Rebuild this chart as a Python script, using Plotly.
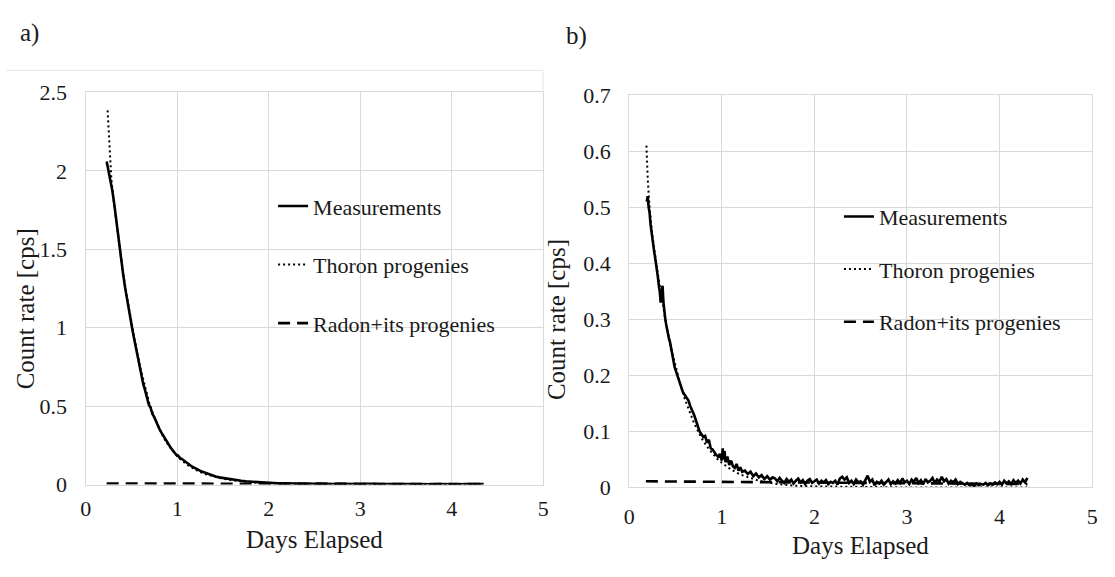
import numpy as np
import plotly.graph_objects as go

W, H = 1115, 577

# ---------------- Panel a) data ----------------
a_meas_x = [0.23, 0.25, 0.27, 0.29, 0.31, 0.33, 0.35, 0.37, 0.39, 0.41, 0.43, 0.45, 0.47, 0.49,
            0.51, 0.53, 0.55, 0.57, 0.59, 0.61, 0.63, 0.65, 0.67, 0.69, 0.71, 0.73, 0.75, 0.77,
            0.79, 0.81, 0.83, 0.85, 0.87, 0.89, 0.91, 0.93, 0.95, 0.97, 0.99, 1.01, 1.03, 1.06,
            1.09, 1.12, 1.15, 1.18, 1.21, 1.24, 1.27, 1.30, 1.34, 1.38, 1.42, 1.46, 1.50, 1.55,
            1.60, 1.65, 1.70, 1.75, 1.80, 1.85, 1.90, 1.95, 2.00]
a_meas_y = [2.06, 2.00, 1.95, 1.88, 1.80, 1.70, 1.60, 1.51, 1.42, 1.34, 1.26, 1.19, 1.11, 1.05,
            0.99, 0.93, 0.87, 0.81, 0.75, 0.69, 0.64, 0.60, 0.55, 0.51, 0.49, 0.45, 0.43, 0.40,
            0.38, 0.35, 0.33, 0.31, 0.29, 0.27, 0.25, 0.235, 0.22, 0.205, 0.19, 0.185, 0.17, 0.16,
            0.145, 0.135, 0.12, 0.11, 0.10, 0.092, 0.083, 0.077, 0.068, 0.060, 0.052, 0.046, 0.042, 0.036,
            0.031, 0.028, 0.024, 0.021, 0.019, 0.016, 0.014, 0.013, 0.011]
a_tail_y = [0.010, 0.008, 0.009, 0.007, 0.008, 0.006, 0.007, 0.005, 0.007, 0.005, 0.006, 0.004,
            0.006, 0.004, 0.005, 0.004, 0.005, 0.003, 0.005, 0.004, 0.005, 0.003, 0.005, 0.004,
            0.005, 0.003, 0.004, 0.003, 0.005, 0.003, 0.004, 0.003, 0.004, 0.003, 0.004, 0.002,
            0.004, 0.003, 0.004, 0.003, 0.004, 0.002, 0.004, 0.003, 0.004, 0.005, 0.003]
a_tail_x = list(np.round(2.05 + 0.05 * np.arange(len(a_tail_y)), 3))

a_thoron_x = [0.24, 0.26, 0.28, 0.30, 0.35, 0.40, 0.45, 0.50, 0.55, 0.60, 0.65, 0.70, 0.75, 0.80,
              0.85, 0.90, 0.95, 1.00, 1.10, 1.20, 1.30, 1.40, 1.50, 1.60, 1.70, 1.80, 2.00, 2.50,
              3.00, 4.35]
a_thoron_y = [2.385, 2.12, 1.96, 1.84, 1.60, 1.39, 1.20, 1.03, 0.88, 0.74, 0.62, 0.51, 0.43, 0.36,
              0.30, 0.255, 0.215, 0.18, 0.13, 0.095, 0.068, 0.050, 0.037, 0.027, 0.020, 0.015, 0.008, 0.003,
              0.001, 0.0]
a_radon_x = [0.23, 1.0, 2.0, 3.0, 4.35]
a_radon_y = [0.007, 0.006, 0.005, 0.004, 0.003]

# ---------------- Panel b) data ----------------
b_meas_x = [0.19, 0.20, 0.21, 0.22, 0.23, 0.24, 0.25, 0.26, 0.27, 0.28, 0.29, 0.30, 0.31, 0.32,
            0.33, 0.34, 0.35, 0.36, 0.37, 0.38, 0.39, 0.40, 0.41, 0.42, 0.43, 0.44, 0.45, 0.46,
            0.47, 0.48, 0.49, 0.50, 0.52, 0.54, 0.56, 0.58, 0.60, 0.62, 0.64, 0.66, 0.68, 0.70,
            0.72, 0.74, 0.76, 0.78, 0.80, 0.82, 0.84, 0.86, 0.88, 0.90, 0.92, 0.94, 0.96, 0.98,
            1.00, 1.01, 1.02, 1.03, 1.04, 1.06, 1.08, 1.10, 1.12, 1.14, 1.16, 1.18, 1.20, 1.22,
            1.25, 1.28, 1.31, 1.34, 1.37, 1.40, 1.43, 1.46, 1.49, 1.52, 1.55]
b_meas_y = [0.51, 0.52, 0.50, 0.49, 0.47, 0.455, 0.44, 0.43, 0.42, 0.41, 0.40, 0.39, 0.375, 0.36,
            0.35, 0.33, 0.345, 0.36, 0.33, 0.31, 0.30, 0.29, 0.28, 0.275, 0.265, 0.26, 0.25, 0.24,
            0.235, 0.225, 0.215, 0.21, 0.20, 0.19, 0.18, 0.17, 0.165, 0.16, 0.155, 0.145, 0.138, 0.13,
            0.12, 0.11, 0.10, 0.095, 0.09, 0.092, 0.08, 0.085, 0.07, 0.068, 0.062, 0.058, 0.055, 0.06,
            0.048, 0.07, 0.05, 0.065, 0.045, 0.055, 0.04, 0.048, 0.038, 0.035, 0.042, 0.03, 0.036, 0.028,
            0.03, 0.024, 0.028, 0.02, 0.025, 0.018, 0.022, 0.015, 0.02, 0.014, 0.018]
b_tail_y = [0.016, 0.011, 0.017, 0.012, 0.008, 0.015, 0.010, 0.014, 0.007, 0.012, 0.016, 0.009,
            0.013, 0.006, 0.012, 0.015, 0.008, 0.011, 0.014, 0.007, 0.012, 0.009, 0.013, 0.006,
            0.010, 0.008, 0.012, 0.005, 0.016, 0.019, 0.014, 0.018, 0.008, 0.012, 0.006, 0.014,
            0.009, 0.011, 0.005, 0.013, 0.021, 0.010, 0.014, 0.004, 0.010, 0.007, 0.012, 0.005,
            0.009, 0.014, 0.006, 0.011, 0.007, 0.013, 0.008, 0.016, 0.009, 0.012, 0.006, 0.014,
            0.010, 0.017, 0.008, 0.013, 0.006, 0.015, 0.009, 0.012, 0.017, 0.008, 0.014, 0.010,
            0.019, 0.011, 0.015, 0.007, 0.012, 0.009, 0.014, 0.006, 0.010, 0.007, 0.005, 0.008,
            0.004, 0.006, 0.003, 0.007, 0.004, 0.006, 0.005, 0.008, 0.004, 0.007, 0.005, 0.009,
            0.006, 0.010, 0.005, 0.012, 0.007, 0.011, 0.006, 0.013, 0.008, 0.012, 0.007, 0.014,
            0.009, 0.017]
b_tail_x = list(np.round(1.575 + 0.025 * np.arange(len(b_tail_y)), 3))

b_thoron_x = [0.186, 0.20, 0.22, 0.25, 0.30, 0.35, 0.40, 0.45, 0.50, 0.55, 0.60, 0.65, 0.70, 0.75,
              0.80, 0.85, 0.90, 0.95, 1.00, 1.10, 1.20, 1.30, 1.40, 1.50, 1.60, 1.80, 2.00, 2.50,
              3.00, 4.30]
b_thoron_y = [0.61, 0.55, 0.50, 0.45, 0.39, 0.34, 0.29, 0.25, 0.215, 0.185, 0.158, 0.135, 0.115, 0.098,
              0.083, 0.071, 0.060, 0.051, 0.044, 0.032, 0.023, 0.017, 0.012, 0.009, 0.006, 0.003, 0.002, 0.001,
              0.0, 0.0]
b_radon_x = [0.18, 1.0, 2.0, 3.0, 4.3]
b_radon_y = [0.011, 0.010, 0.008, 0.007, 0.006]

x_ticks = [0, 1, 2, 3, 4, 5]
a_y_ticks = [0, 0.5, 1, 1.5, 2, 2.5]
b_y_ticks = [0, 0.1, 0.2, 0.3, 0.4, 0.5, 0.6, 0.7]
series_names = ["Measurements", "Thoron progenies", "Radon+its progenies"]
axis_title_x = "Days Elapsed"
axis_title_y = "Count rate [cps]"
panel_labels = ["a)", "b)"]

# ---------------- layout geometry (pixels) ----------------
FONT = "Liberation Serif"
GRID = "#d9d9d9"
TXT = "#1a1a1a"
a_px = (80.5, 543, 84, 494)     # left, right, top, bottom
b_px = (630, 1098, 87, 497)

def xdom(p):
    return [p[0] / W, p[1] / W]

def ydom(p):
    return [1 - p[3] / H, 1 - p[2] / H]

fig = go.Figure()

def add_panel(xa, ya, legend, mx, my, tx, ty, rx, ry):
    fig.add_trace(go.Scatter(x=rx, y=ry, mode="lines", name=series_names[2], xaxis=xa, yaxis=ya,
                             legend=legend, legendgroup=legend + "r", legendrank=3,
                             line=dict(color="black", width=2.6, dash="12px,7px")))
    fig.add_trace(go.Scatter(x=tx, y=ty, mode="lines", name=series_names[1], xaxis=xa, yaxis=ya,
                             legend=legend, legendgroup=legend + "t", legendrank=2,
                             line=dict(color="black", width=2, dash="2px,3px")))
    fig.add_trace(go.Scatter(x=mx, y=my, mode="lines", name=series_names[0], xaxis=xa, yaxis=ya,
                             legend=legend, legendgroup=legend + "m", legendrank=1,
                             line=dict(color="black", width=2.6)))

add_panel("x", "y", "legend", a_meas_x + a_tail_x, a_meas_y + a_tail_y,
          a_thoron_x, a_thoron_y, a_radon_x, a_radon_y)
add_panel("x2", "y2", "legend2", b_meas_x + b_tail_x, b_meas_y + b_tail_y,
          b_thoron_x, b_thoron_y, b_radon_x, b_radon_y)

axis_common = dict(showgrid=True, gridcolor=GRID, gridwidth=1.3, showline=True, linecolor=GRID,
                   linewidth=1.3, mirror=True, zeroline=False, ticks="",
                   tickfont=dict(family=FONT, size=22, color=TXT), fixedrange=True)

fig.update_layout(
    width=W, height=H,
    margin=dict(l=0, r=0, t=0, b=0),
    paper_bgcolor="white", plot_bgcolor="white",
    xaxis=dict(domain=xdom(a_px), range=[0, 5], tickvals=x_ticks, ticklabelstandoff=4, anchor="y", **axis_common),
    yaxis=dict(domain=ydom(a_px), range=[0, 2.5], tickvals=a_y_ticks, ticklabelstandoff=13, anchor="x", **axis_common),
    xaxis2=dict(domain=xdom(b_px), range=[0, 5], tickvals=x_ticks, ticklabelstandoff=9, anchor="y2", **axis_common),
    yaxis2=dict(domain=ydom(b_px), range=[0, 0.7], tickvals=b_y_ticks, ticklabelstandoff=13, anchor="x2", **axis_common),
    legend=dict(x=270 / W, y=1 - 181 / H, xanchor="left", yanchor="top", bgcolor="rgba(0,0,0,0)",
                font=dict(family=FONT, size=22, color=TXT), tracegroupgap=27, traceorder="grouped"),
    legend2=dict(x=842 / W, y=1 - 192 / H, xanchor="left", yanchor="top", bgcolor="rgba(0,0,0,0)",
                 font=dict(family=FONT, size=22, color=TXT), tracegroupgap=21, traceorder="grouped"),
    showlegend=True,
)

ann_font = dict(family=FONT, size=25, color=TXT)
annotations = [
    dict(text=axis_title_x, x=(a_px[0] + a_px[1]) / 2 / W, y=1 - 551 / H, xref="paper", yref="paper",
         showarrow=False, font=ann_font, xanchor="center", yanchor="middle"),
    dict(text=axis_title_x, x=(b_px[0] + b_px[1]) / 2 / W, y=1 - 558 / H, xref="paper", yref="paper",
         showarrow=False, font=ann_font, xanchor="center", yanchor="middle"),
    dict(text=axis_title_y, x=20 / W, y=1 - 310 / H, xref="paper", yref="paper", textangle=-90,
         showarrow=False, font=ann_font, xanchor="center", yanchor="middle"),
    dict(text=axis_title_y, x=556 / W, y=1 - 322 / H, xref="paper", yref="paper", textangle=-90,
         showarrow=False, font=ann_font, xanchor="center", yanchor="middle"),
    dict(text=panel_labels[0], x=24 / W, y=1 - 22 / H, xref="paper", yref="paper",
         showarrow=False, font=ann_font, xanchor="center", yanchor="middle"),
    dict(text=panel_labels[1], x=577 / W, y=1 - 25 / H, xref="paper", yref="paper",
         showarrow=False, font=ann_font, xanchor="center", yanchor="middle"),
]
fig.update_layout(annotations=annotations)

# faint chart-area frame corner of panel a)
fig.add_shape(type="line", xref="paper", yref="paper", x0=0, x1=543 / W, y0=1 - 61 / H, y1=1 - 61 / H,
              line=dict(color="#e6e6e6", width=1))
fig.add_shape(type="line", xref="paper", yref="paper", x0=543 / W, x1=543 / W, y0=1 - 61 / H, y1=1 - 84 / H,
              line=dict(color="#e6e6e6", width=1))

fig.write_html("out.html", config={"displayModeBar": False},
               post_script="document.body.style.margin='0px';")
